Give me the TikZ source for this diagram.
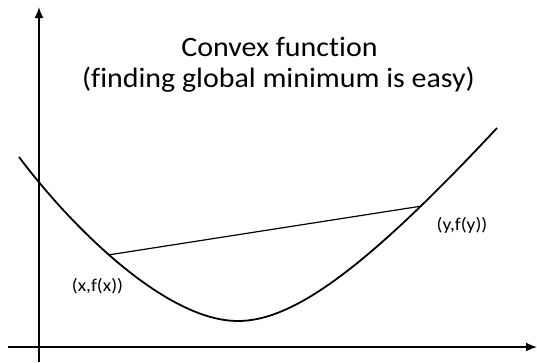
\documentclass[tikz,border=0pt]{standalone}
\usepackage{fontspec}
\setmainfont{Carlito}[Ligatures=NoCommon]
\usetikzlibrary{arrows.meta}
\begin{document}
\begin{tikzpicture}[x=1pt, y=-1pt, >={Latex[length=11pt,width=9pt]},
    ax/.style={line width=1.7pt},
    crv/.style={line width=1.8pt},
    chord/.style={line width=1.2pt},
    ttl/.style={font=\fontsize{28}{32}\selectfont, xscale=1.07, anchor=base, inner sep=0pt},
    lbl/.style={font=\fontsize{18}{20}\selectfont, xscale=1.08, anchor=base, inner sep=0pt}]
  \useasboundingbox (0,0) rectangle (537,362);
  \coordinate (ybot) at (39,362);
  \coordinate (ytop) at (39,7);
  \coordinate (xl) at (8,347);
  \coordinate (xr) at (537,347);
  \draw[ax, ->] (ybot) -- (ytop);
  \draw[ax, ->] (xl) -- (xr);
  \node[ttl] (t1) at (279.5,56) {Convex function};
  \node[ttl] (t2) at (278.5,87) {(finding global minimum is easy)};
  \draw[crv] (19,157) .. controls (70,225) and (165,321) .. (238,321)
    .. controls (295,321) and (370,264) .. (497,128);
  \coordinate (px) at (108,255);
  \coordinate (py) at (422,206);
  \draw[chord] (px) -- (py);
  \node[lbl] (lx) at (97.5,291) {(x,f(x))};
  \node[lbl] (ly) at (462,230) {(y,f(y))};
\end{tikzpicture}
\end{document}
